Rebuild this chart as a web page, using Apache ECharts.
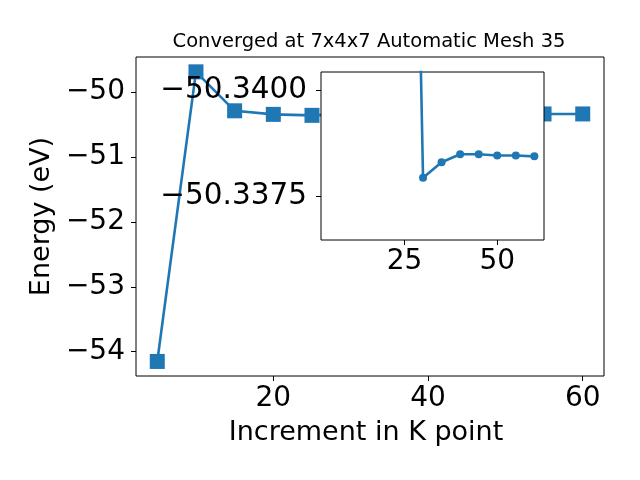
<!DOCTYPE html>
<html>
<head>
<meta charset="utf-8">
<script src="https://cdn.jsdelivr.net/npm/echarts@6/dist/echarts.min.js"></script>
<style>html,body{margin:0;padding:0;background:#fff}#c{width:640px;height:480px}</style>
</head>
<body>
<div id="c"></div>
<script>
// Data
var kPoints = [5, 10, 15, 20, 25, 30, 35, 40, 45, 50, 55, 60];
var energies = [-54.15, -49.69, -50.29, -50.345, -50.36, -50.33793, -50.33830, -50.33849, -50.33849, -50.33846, -50.33846, -50.33844];
var insetStartIndex = 4;
var mainXTicks = [20, 40, 60];
var mainYTicks = [-54, -53, -52, -51, -50];
var insetXTicks = [25, 50];
var insetYTicks = [-50.34, -50.3375];
var titleText = 'Converged at 7x4x7 Automatic Mesh 35';
var xName = 'Increment in K point';
var yName = 'Energy (eV)';

var C = '#1f77b4';
var FONT = 'DejaVu Sans';
var mainData = kPoints.map(function (k, i) { return [k, energies[i]]; });
var insetData = mainData.slice(insetStartIndex);
function fmtMinus(s) { return String(s).replace('-', '\u2212'); }

var chart = echarts.init(document.getElementById('c'), null, {renderer: 'canvas'});
chart.setOption({
  animation: false,
  backgroundColor: '#fff',
  title: {
    text: titleText, left: 369, top: 32, textAlign: 'center', padding: 0,
    textStyle: {fontFamily: FONT, fontSize: 19.5, fontWeight: 'normal', color: '#000'}
  },
  grid: [
    {left: 136, top: 57, right: 36, bottom: 104, show: true, borderColor: '#000', borderWidth: 1, backgroundColor: '#fff', z: 0},
    {left: 321, top: 72, width: 223, height: 168, show: true, borderColor: '#000', borderWidth: 1, backgroundColor: '#fff', z: 10}
  ],
  xAxis: [
    {
      type: 'value', gridIndex: 0, min: 2.25, max: 62.75,
      name: xName, nameLocation: 'middle', nameGap: 43,
      nameTextStyle: {fontFamily: FONT, fontSize: 27, color: '#000', padding: [0, 8, 0, 0]},
      axisLine: {show: false}, splitLine: {show: false},
      axisTick: {show: true, length: 5, lineStyle: {color: '#000'}, customValues: mainXTicks},
      axisLabel: {fontFamily: FONT, fontSize: 28, color: '#000', margin: 9, customValues: mainXTicks, formatter: fmtMinus}
    },
    {
      type: 'value', gridIndex: 1, min: 2.5, max: 62.6, z: 12,
      axisLine: {show: false}, splitLine: {show: false},
      axisTick: {show: true, length: 5, lineStyle: {color: '#000'}, customValues: insetXTicks},
      axisLabel: {fontFamily: FONT, fontSize: 28, color: '#000', margin: 8, customValues: insetXTicks, formatter: fmtMinus}
    }
  ],
  yAxis: [
    {
      type: 'value', gridIndex: 0, min: -54.374, max: -49.4615,
      name: yName, nameLocation: 'middle', nameGap: 76, nameRotate: 90,
      nameTextStyle: {fontFamily: FONT, fontSize: 27, color: '#000'},
      axisLine: {show: false}, splitLine: {show: false},
      axisTick: {show: true, length: 5, lineStyle: {color: '#000'}, customValues: mainYTicks},
      axisLabel: {fontFamily: FONT, fontSize: 28, color: '#000', margin: 11, padding: [4, 0, 0, 0], customValues: mainYTicks, formatter: fmtMinus}
    },
    {
      type: 'value', gridIndex: 1, inverse: true, min: -50.340445, max: -50.336452, z: 12,
      axisLine: {show: false}, splitLine: {show: false},
      axisTick: {show: true, length: 5, lineStyle: {color: '#000'}, customValues: insetYTicks},
      axisLabel: {fontFamily: FONT, fontSize: 29.5, color: '#000', margin: 14, padding: [5, 0, 0, 0], customValues: insetYTicks,
        formatter: function (v) { return fmtMinus(Number(v).toFixed(4)); }}
    }
  ],
  series: [
    {
      type: 'line', xAxisIndex: 0, yAxisIndex: 0, data: mainData, z: 2,
      symbol: 'rect', symbolSize: 15, showAllSymbol: true,
      lineStyle: {color: C, width: 2.6}, itemStyle: {color: C}
    },
    {
      type: 'line', xAxisIndex: 1, yAxisIndex: 1, data: insetData, z: 11, clip: true,
      symbol: 'circle', symbolSize: 8, showAllSymbol: true,
      lineStyle: {color: C, width: 2.6}, itemStyle: {color: C}
    }
  ]
});
</script>
</body>
</html>
